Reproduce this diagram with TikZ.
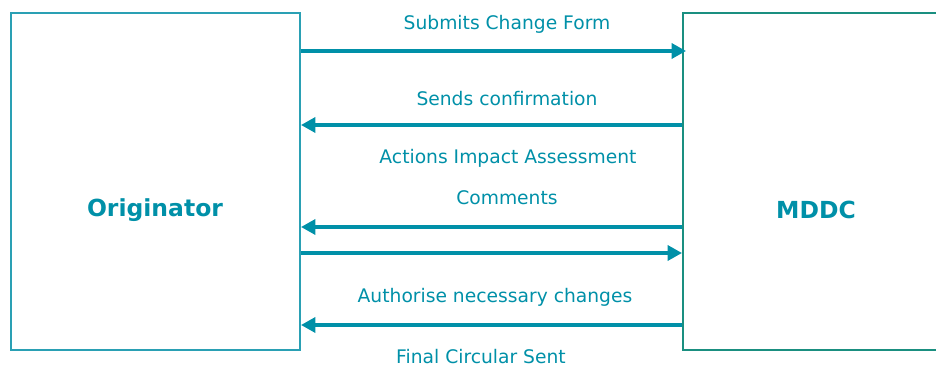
\documentclass[tikz,border=0pt]{standalone}
\usepackage{fontspec}
\setmainfont{DejaVu Sans}
\usepackage{tikz}
\usetikzlibrary{arrows.meta}
\usetikzlibrary{calc}
\definecolor{teal1}{RGB}{0,144,168}
\definecolor{teal2}{RGB}{42,160,180}
\definecolor{teal3}{RGB}{26,143,128}

\begin{document}
\begin{tikzpicture}[>={Triangle[length=0.36cm,width=0.38cm]},thick]

  \clip (0,0) rectangle (23.4,-9.275);
  \useasboundingbox (0,0) rectangle (23.4,-9.275);

  \tikzset{
    party/.style={draw,line width=1.5pt,minimum width=7.225cm,minimum height=8.425cm,inner sep=0pt},
    partytext/.style={font=\bfseries\fontsize{16.7}{19}\selectfont,text=teal1},
    msg/.style={font=\fontsize{13.3}{15}\selectfont,text=teal1},
    flow/.style={->,draw=teal1,fill=teal1,line width=2.2pt}
  }

  \node [party,teal2] (orig) at (3.8875,-4.5375) {};
  \node [party,teal3,minimum width=6.65cm] (mddc) at (20.4,-4.5375) {};
  \node [partytext] (origtxt) at (3.875,-5.25) {Originator};
  \node [partytext] (mddctxt) at (20.4,-5.25) {MDDC};

  \draw [flow,shorten >=-0.1cm] (orig.east |- 0,-1.275) -- (mddc.west |- 0,-1.275);
  \draw [flow] (orig.east |- 0,-6.325) -- (mddc.west |- 0,-6.325);
  \foreach \y in {-3.125,-5.675,-8.125}
    \draw [flow] (mddc.west |- 0,\y) -- (orig.east |- 0,\y);

  \node [msg] (submit) at (12.675,-0.6) {Submits Change Form};
  \node [msg] (confirm) at (12.675,-2.475) {Sends confirmation};
  \node [msg] (assess) at (12.7,-3.95) {Actions Impact Assessment};
  \node [msg] (comments) at (12.675,-4.95) {Comments};
  \node [msg] (authorise) at (12.375,-7.425) {Authorise necessary changes};
  \node [msg,anchor=base,inner sep=0pt] (final) at (12.025,-9.1) {Final Circular Sent};

\end{tikzpicture}
\end{document}
